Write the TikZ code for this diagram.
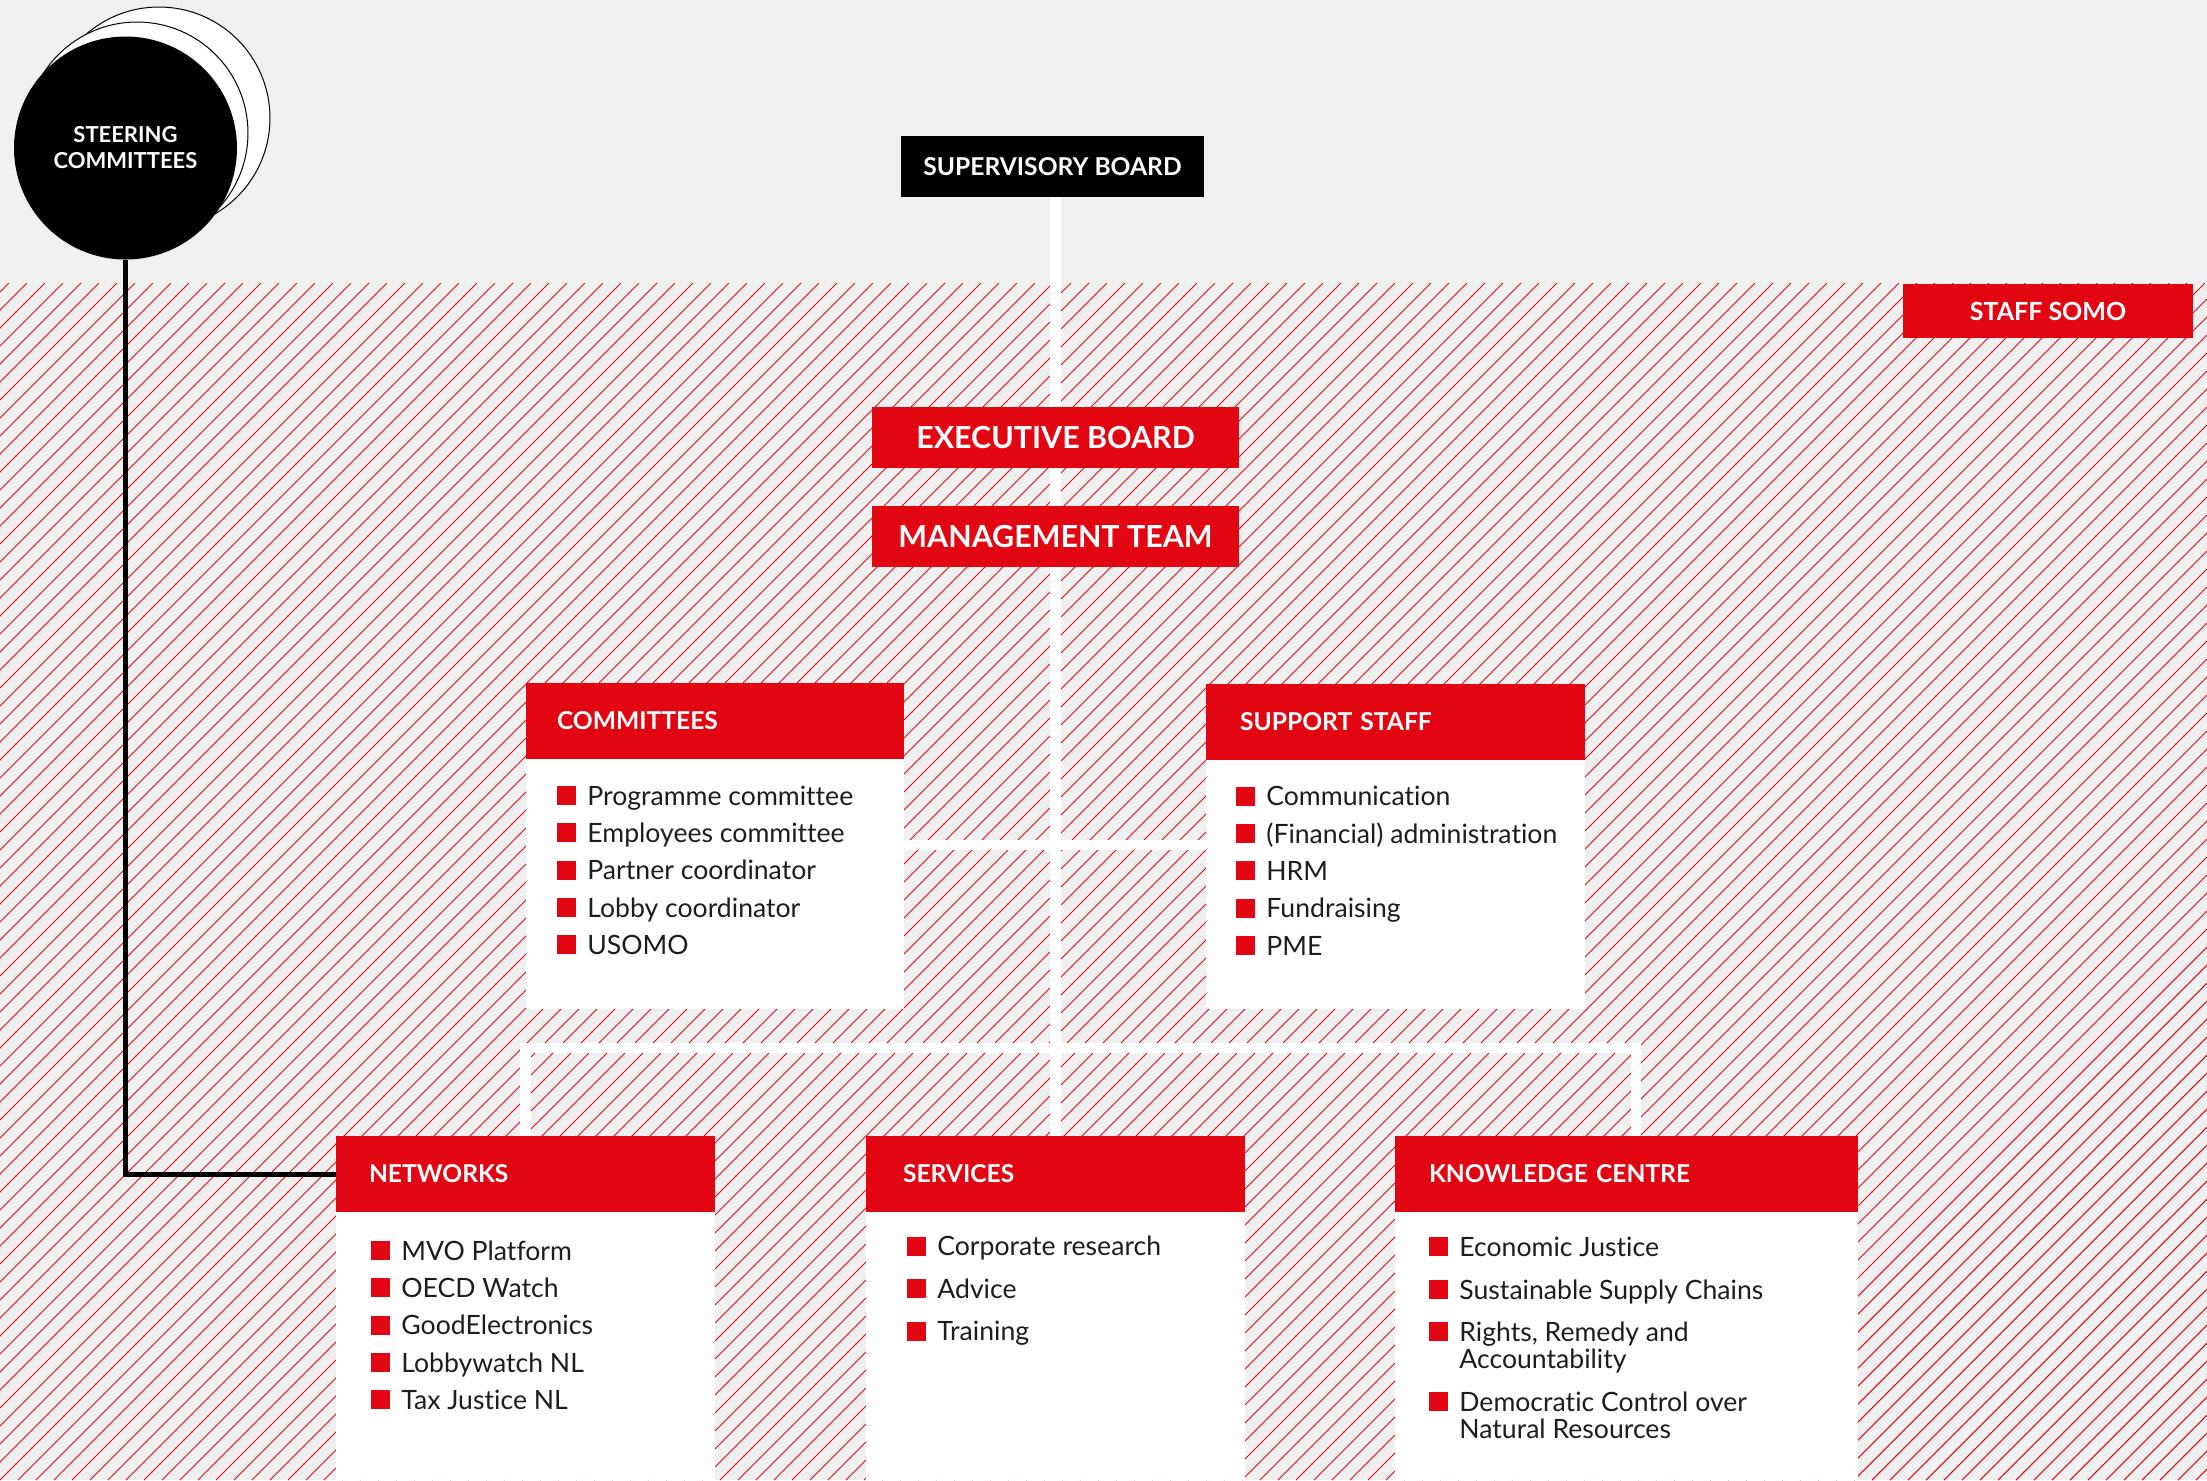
\documentclass[tikz,border=0pt]{standalone}
\usepackage{fontspec}
\setmainfont{Lato}[Ligatures=NoCommon]
\usetikzlibrary{calc}
\definecolor{somored}{RGB}{226,6,19}
\definecolor{bggray}{RGB}{240,240,240}
\definecolor{ink}{RGB}{29,29,27}
\newcommand{\sqb}{\textcolor{somored}{\rule{9.5pt}{9.5pt}}\hspace{5.5pt}}
\pgfdeclarelayer{hatchlayer}
\pgfdeclarelayer{linklayer}
\pgfsetlayers{hatchlayer,linklayer,main}
\begin{document}
\begin{tikzpicture}[x=0.5pt,y=-0.5pt,
  hatch/.style={somored, line width=0.5pt},
  wline/.style={white, line width=5.25pt},
  bline/.style={black, line width=2.5pt},
  blackbox/.style={fill=black, text=white, font=\bfseries\fontsize{12.3}{14}\selectfont, inner sep=0pt, outer sep=0pt},
  redbox/.style={fill=somored, text=white, font=\bfseries\fontsize{15.2}{17}\selectfont, inner sep=0pt, outer sep=0pt},
  head/.style={fill=somored, text=white, font=\bfseries\fontsize{12.3}{14}\selectfont, inner ysep=0pt, outer sep=0pt, anchor=north west, align=left, minimum height=38pt},
  body/.style={fill=white, inner sep=0pt, outer sep=0pt, anchor=north west},
  itm/.style={anchor=base west, inner sep=0pt, text=ink, font=\fontsize{13.3}{15}\selectfont},
  ring/.style={circle, draw=black, line width=0.5pt, fill=white, minimum size=111pt, inner sep=0pt},
]
\useasboundingbox (0,0) rectangle (2207,1480);
\begin{pgfonlayer}{hatchlayer}
\fill[bggray] (0,0) rectangle (2207,1480);
\begin{scope}
\clip (0,283) rectangle (2207,1480);
\foreach \i in {-70,...,125} \draw[hatch] (\i*18,1480) -- ++(1197,-1197);
\end{scope}
\end{pgfonlayer}

\node[blackbox, minimum width=151.5pt, minimum height=30.5pt] (sup) at (1052.5,166.5) {SUPERVISORY BOARD};
\node[redbox, minimum width=145pt, minimum height=27pt, font=\bfseries\fontsize{12.5}{14}\selectfont] (staff) at (2048,311) {STAFF SOMO};
\node[redbox, minimum width=183.5pt, minimum height=30.5pt] (exec) at (1055.5,437.5) {EXECUTIVE BOARD};
\node[redbox, minimum width=183.5pt, minimum height=30.5pt] (mgmt) at (1055.5,536.5) {MANAGEMENT TEAM};

% committees
\node[head, text width=158pt, inner xsep=15.5pt] (commh) at (526,683) {COMMITTEES};
\node[body, minimum width=189pt, minimum height=125pt] (commb) at (526,759) {};
\node[itm] (c1) at (557,805) {\sqb Programme committee};
\node[itm] (c2) at (557,842.3) {\sqb Employees committee};
\node[itm] (c3) at (557,879.6) {\sqb Partner coordinator};
\node[itm] (c4) at (557,917) {\sqb Lobby coordinator};
\node[itm] (c5) at (557,954.3) {\sqb USOMO};

% support staff
\node[head, text width=155.5pt, inner xsep=17pt] (supph) at (1206,684) {SUPPORT STAFF};
\node[body, minimum width=189.5pt, minimum height=124.5pt] (suppb) at (1206,760) {};
\node[itm] (s1) at (1236,805.7) {\sqb Communication};
\node[itm] (s2) at (1236,843) {\sqb (Financial) administration};
\node[itm] (s3) at (1236,880.3) {\sqb HRM};
\node[itm] (s4) at (1236,917.6) {\sqb Fundraising};
\node[itm] (s5) at (1236,955) {\sqb PME};

% networks
\node[head, text width=156.5pt, inner xsep=16.5pt] (neth) at (336,1136) {NETWORKS};
\node[body, minimum width=189.5pt, minimum height=134pt] (netb) at (336,1212) {};
\node[itm] (n1) at (371,1260) {\sqb MVO Platform};
\node[itm] (n2) at (371,1297.3) {\sqb OECD Watch};
\node[itm] (n3) at (371,1334.6) {\sqb GoodElectronics};
\node[itm] (n4) at (371,1372) {\sqb Lobbywatch NL};
\node[itm] (n5) at (371,1409.3) {\sqb Tax Justice NL};

% services
\node[head, text width=152.5pt, inner xsep=18.5pt] (servh) at (866,1136) {SERVICES};
\node[body, minimum width=189.5pt, minimum height=134pt] (servb) at (866,1212) {};
\node[itm] (v1) at (907,1255.7) {\sqb Corporate research};
\node[itm] (v2) at (907,1298.3) {\sqb Advice};
\node[itm] (v3) at (907,1340.7) {\sqb Training};

% knowledge centre
\node[head, text width=197.5pt, inner xsep=17pt] (knowh) at (1395,1136) {KNOWLEDGE CENTRE};
\node[body, minimum width=231.5pt, minimum height=134pt] (knowb) at (1395,1212) {};
\node[itm] (k1) at (1429,1256) {\sqb Economic Justice};
\node[itm] (k2) at (1429,1299) {\sqb Sustainable Supply Chains};
\node[itm] (k3) at (1429,1341) {\sqb Rights, Remedy and};
\node[itm] (k3b) at (1459,1368) {Accountability};
\node[itm] (k4) at (1429,1411) {\sqb Democratic Control over};
\node[itm] (k4b) at (1459,1438) {Natural Resources};

% steering committees
\node[ring] (ring3) at (159,118) {};
\node[ring] (ring2) at (137,133) {};
\node[circle, fill=black, minimum size=111.5pt, inner sep=0pt, text=white, align=center, font=\bfseries\fontsize{11}{13}\selectfont] (steer) at (125.5,148) {STEERING\\COMMITTEES};

% connectors
\coordinate (cj) at (1055.5,845);
\coordinate (bj) at (1055.5,1048);
\coordinate (kj) at (1636,1136);
\begin{pgfonlayer}{linklayer}
\draw[wline] (servh.north |- sup.south) -- (servh.north);
\draw[wline] (cj -| commb.east) -- (cj -| suppb.west);
\draw[wline] (neth.north) |- (bj) -| (kj);
\draw[bline] (steer.south) |- (neth.west);
\end{pgfonlayer}
\end{tikzpicture}
\end{document}
